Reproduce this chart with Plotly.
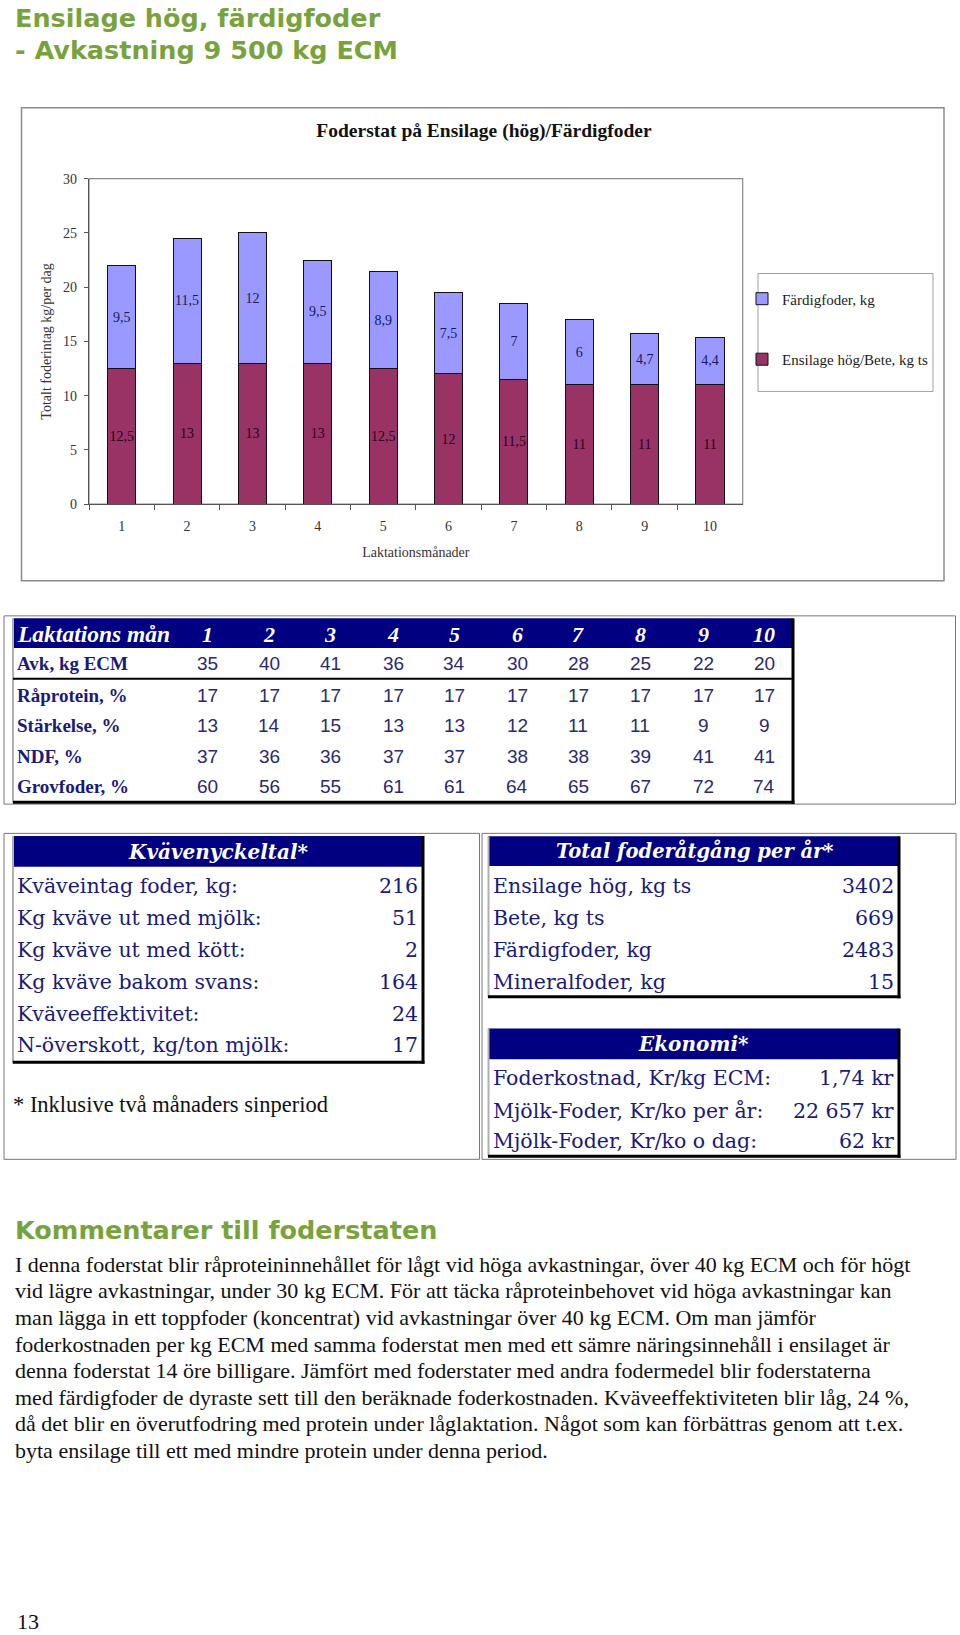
import plotly.graph_objects as go

W, H = 960, 1635

# ---------------- data ----------------
months = ["1", "2", "3", "4", "5", "6", "7", "8", "9", "10"]
ensilage_bete = [12.5, 13, 13, 13, 12.5, 12, 11.5, 11, 11, 11]
fardigfoder = [9.5, 11.5, 12, 9.5, 8.9, 7.5, 7, 6, 4.7, 4.4]

page_title_1 = "Ensilage hög, färdigfoder"
page_title_2 = "- Avkastning 9 500 kg ECM"
chart_title = "Foderstat på Ensilage (hög)/Färdigfoder"
y_title = "Totalt foderintag kg/per dag"
x_title = "Laktationsmånader"
name_fardig = "Färdigfoder, kg"
name_ensilage = "Ensilage hög/Bete, kg ts"

lakt_header = "Laktations mån"
lakt_months = ["1", "2", "3", "4", "5", "6", "7", "8", "9", "10"]
lakt_row_labels = ["Avk, kg ECM", "Råprotein, %", "Stärkelse, %", "NDF, %", "Grovfoder, %"]
avk_kg_ecm = [35, 40, 41, 36, 34, 30, 28, 25, 22, 20]
raprotein = [17, 17, 17, 17, 17, 17, 17, 17, 17, 17]
starkelse = [13, 14, 15, 13, 13, 12, 11, 11, 9, 9]
ndf = [37, 36, 36, 37, 37, 38, 38, 39, 41, 41]
grovfoder = [60, 56, 55, 61, 61, 64, 65, 67, 72, 74]

kvave_title = "Kvävenyckeltal*"
kvave_labels = ["Kväveintag foder, kg:", "Kg kväve ut med mjölk:", "Kg kväve ut med kött:",
                "Kg kväve bakom svans:", "Kväveeffektivitet:", "N-överskott, kg/ton mjölk:"]
kvave_values = ["216", "51", "2", "164", "24", "17"]

total_title = "Total foderåtgång per år*"
total_labels = ["Ensilage hög, kg ts", "Bete, kg ts", "Färdigfoder, kg", "Mineralfoder, kg"]
total_values = ["3402", "669", "2483", "15"]

ekonomi_title = "Ekonomi*"
ekonomi_labels = ["Foderkostnad, Kr/kg ECM:", "Mjölk-Foder, Kr/ko per år:", "Mjölk-Foder, Kr/ko o dag:"]
ekonomi_values = ["1,74 kr", "22 657 kr", "62 kr"]

footnote = "* Inklusive två månaders sinperiod"
comment_heading = "Kommentarer till foderstaten"
comment_lines = [
    "I denna foderstat blir råproteininnehållet för lågt vid höga avkastningar, över 40 kg ECM och för högt",
    "vid lägre avkastningar, under 30 kg ECM. För att täcka råproteinbehovet vid höga avkastningar kan",
    "man lägga in ett toppfoder (koncentrat) vid avkastningar över 40 kg ECM. Om man jämför",
    "foderkostnaden per kg ECM med samma foderstat men med ett sämre näringsinnehåll i ensilaget är",
    "denna foderstat 14 öre billigare. Jämfört med foderstater med andra fodermedel blir foderstaterna",
    "med färdigfoder de dyraste sett till den beräknade foderkostnaden. Kväveeffektiviteten blir låg, 24 %,",
    "då det blir en överutfodring med protein under låglaktation. Något som kan förbättras genom att t.ex.",
    "byta ensilage till ett med mindre protein under denna period.",
]
page_number = "13"

# ---------------- helpers ----------------
SERIF = "Liberation Serif, Times New Roman, serif"
WSERIF = "DejaVu Serif, Liberation Serif, serif"
SANS = "Liberation Sans, Arial, sans-serif"
HEAD = "DejaVu Sans, Verdana, sans-serif"
GREEN = "#78a33c"
NAVY = "#000080"
TXT_NAVY = "#1a1a78"

shapes = []
annots = []


def X(x):
    return x / W


def Y(y):
    return 1 - y / H


def rect(x0, y0, x1, y1, fill=None, color=None, width=0):
    shapes.append(dict(type="rect", xref="paper", yref="paper",
                       x0=X(x0), x1=X(x1), y0=Y(y1), y1=Y(y0),
                       fillcolor=fill if fill else "rgba(0,0,0,0)",
                       line=dict(color=color if color else "rgba(0,0,0,0)", width=width)))


def seg(x0, y0, x1, y1, color, width):
    shapes.append(dict(type="line", xref="paper", yref="paper",
                       x0=X(x0), x1=X(x1), y0=Y(y0), y1=Y(y1),
                       line=dict(color=color, width=width)))


def txt(x, y, s, size, color, family, anchor="left", weight="normal", style="normal"):
    annots.append(dict(x=X(x), y=Y(y), xref="paper", yref="paper", text=s, showarrow=False,
                       xanchor=anchor, yanchor="middle", borderpad=0,
                       font=dict(size=size, color=color, family=family, weight=weight, style=style)))


def fmt(v):
    return ("%g" % v).replace(".", ",")


# ---------------- chart ----------------
fig = go.Figure()
fig.add_bar(x=months, y=ensilage_bete, name=name_ensilage, legendgroup="b", legendrank=2,
            marker=dict(color="#993366", line=dict(color="#111", width=1)),
            text=[fmt(v) for v in ensilage_bete], textposition="inside", insidetextanchor="middle",
            textangle=0, constraintext="none",
            textfont=dict(family=SERIF, size=14, color="#2a0018"))
fig.add_bar(x=months, y=fardigfoder, name=name_fardig, legendgroup="a", legendrank=1,
            marker=dict(color="#9999ff", line=dict(color="#111", width=1)),
            text=[fmt(v) for v in fardigfoder], textposition="inside", insidetextanchor="middle",
            textangle=0, constraintext="none",
            textfont=dict(family=SERIF, size=14, color="#1a1a55"))

PL, PR, PT, PB = 89, 742.7, 173.3, 501.7

# chart frame and plot area border
rect(21.5, 101.7, 944, 579, color="#8a8a8a", width=1.5)
shapes.append(dict(type="rect", xref="x domain", yref="y domain", x0=0, x1=1, y0=0, y1=1,
                   line=dict(color="#8a8a8a", width=1.2), fillcolor="rgba(0,0,0,0)", layer="below"))
# legend box
rect(758, 269, 933, 388, color="#a0a0a0", width=1)

# ---------------- page title ----------------
txt(14, 11, page_title_1, 25.5, GREEN, HEAD, weight="bold")
txt(14, 43, page_title_2, 25.5, GREEN, HEAD, weight="bold")

# ---------------- lactation table ----------------
col_x = [207, 269, 330, 393, 454, 517, 578, 640, 703, 764]
row_y = [663, 695, 725, 756, 787]
rect(4, 614.5, 955.5, 804.5, color="#777", width=1)
rect(13, 617, 793, 647, fill=NAVY)
seg(13, 617, 13, 803, "#b0b0b0", 2)
seg(793, 617, 793, 804, "#000", 3)
seg(13, 802.5, 794.5, 802.5, "#000", 3)
seg(13, 678, 793, 678, "#000", 2)
txt(16, 633, lakt_header, 23.5, "white", SERIF, weight="bold", style="italic")
for cx, m in zip(col_x, lakt_months):
    txt(cx, 633, m, 22, "white", SERIF, anchor="center", weight="bold", style="italic")
rows = [avk_kg_ecm, raprotein, starkelse, ndf, grovfoder]
for ry, lab, vals in zip(row_y, lakt_row_labels, rows):
    txt(16, ry, lab, 19, TXT_NAVY, SERIF, weight="bold")
    for cx, v in zip(col_x, vals):
        txt(cx, ry, str(v), 19, "#2a2a6e", SANS, anchor="center")

# ---------------- lower frames ----------------
rect(4, 834, 479.5, 1163, color="#777", width=1)
rect(482, 834, 956, 1163, color="#777", width=1)

# Kvävenyckeltal
rect(12.7, 836.7, 423, 867.7, fill=NAVY)
seg(13, 836.7, 13, 1065, "#b0b0b0", 2)
seg(423, 836.7, 423, 1066.5, "#000", 3)
seg(12.7, 1065, 424.5, 1065, "#000", 3)
txt(218, 852.5, kvave_title, 20, "white", WSERIF, anchor="center", weight="bold", style="italic")
for ry, lab, val in zip([887, 919, 952, 984, 1016, 1048], kvave_labels, kvave_values):
    txt(16, ry, lab, 20.5, TXT_NAVY, WSERIF)
    txt(419, ry, val, 20.5, TXT_NAVY, WSERIF, anchor="right")

txt(12, 1108, footnote, 22.5, "#111", SERIF)

# Total foderåtgång
rect(488, 837, 899, 867, fill=NAVY)
seg(488.5, 837, 488.5, 999, "#b0b0b0", 2)
seg(899, 837, 899, 1000.5, "#000", 3)
seg(488, 999, 900.5, 999, "#000", 3)
txt(695, 852, total_title, 19.5, "white", WSERIF, anchor="center", weight="bold", style="italic")
for ry, lab, val in zip([887, 919, 952, 984], total_labels, total_values):
    txt(492, ry, lab, 20.5, TXT_NAVY, WSERIF)
    txt(895, ry, val, 20.5, TXT_NAVY, WSERIF, anchor="right")

# Ekonomi
rect(488, 1031, 899, 1062, fill=NAVY)
seg(488.5, 1031, 488.5, 1160, "#b0b0b0", 2)
seg(899, 1031, 899, 1161.5, "#000", 3)
seg(488, 1160, 900.5, 1160, "#000", 3)
txt(693, 1047, ekonomi_title, 20, "white", WSERIF, anchor="center", weight="bold", style="italic")
for ry, lab, val in zip([1081, 1114, 1145], ekonomi_labels, ekonomi_values):
    txt(492, ry, lab, 20.5, TXT_NAVY, WSERIF)
    txt(895, ry, val, 20.5, TXT_NAVY, WSERIF, anchor="right")

# ---------------- comments ----------------
txt(14, 1234, comment_heading, 25.5, GREEN, HEAD, weight="bold")
for i, line in enumerate(comment_lines):
    txt(14, 1269 + 26.8 * i, line, 22, "#111", SERIF)

txt(16, 1629, page_number, 22, "#111", SERIF)

# ---------------- layout ----------------
fig.update_layout(
    width=W, height=H,
    margin=dict(l=0, r=0, t=0, b=0),
    paper_bgcolor="white", plot_bgcolor="white",
    barmode="stack", bargap=0.57,
    title=dict(text=chart_title, x=X(484), y=Y(130), xanchor="center", yanchor="middle",
               font=dict(family=SERIF, size=19.5, color="#111", weight="bold")),
    xaxis=dict(domain=[X(PL), X(PR)], type="category", showline=True, linecolor="#555", linewidth=1.2,
               ticks="outside", tickson="boundaries", ticklen=5, tickcolor="#555", ticklabelstandoff=9,
               tickfont=dict(family=SERIF, size=14, color="#333"), showgrid=False,
               title=dict(text=x_title, standoff=14, font=dict(family=SERIF, size=14, color="#333"))),
    yaxis=dict(domain=[Y(PB), Y(PT)], range=[0, 30], dtick=5, showline=True, linecolor="#555",
               linewidth=1.2, ticks="outside", ticklen=4, tickcolor="#555", showgrid=False, zeroline=False,
               ticklabelstandoff=4,
               tickfont=dict(family=SERIF, size=14, color="#333"),
               title=dict(text=y_title, standoff=8, font=dict(family=SERIF, size=14, color="#333"))),
    legend=dict(x=X(742), y=Y(278), xanchor="left", yanchor="top", traceorder="grouped",
                tracegroupgap=38, itemwidth=30, bgcolor="rgba(0,0,0,0)",
                font=dict(family=SERIF, size=15, color="#222")),
    shapes=shapes,
    annotations=annots,
)

fig.write_html("out.html")
